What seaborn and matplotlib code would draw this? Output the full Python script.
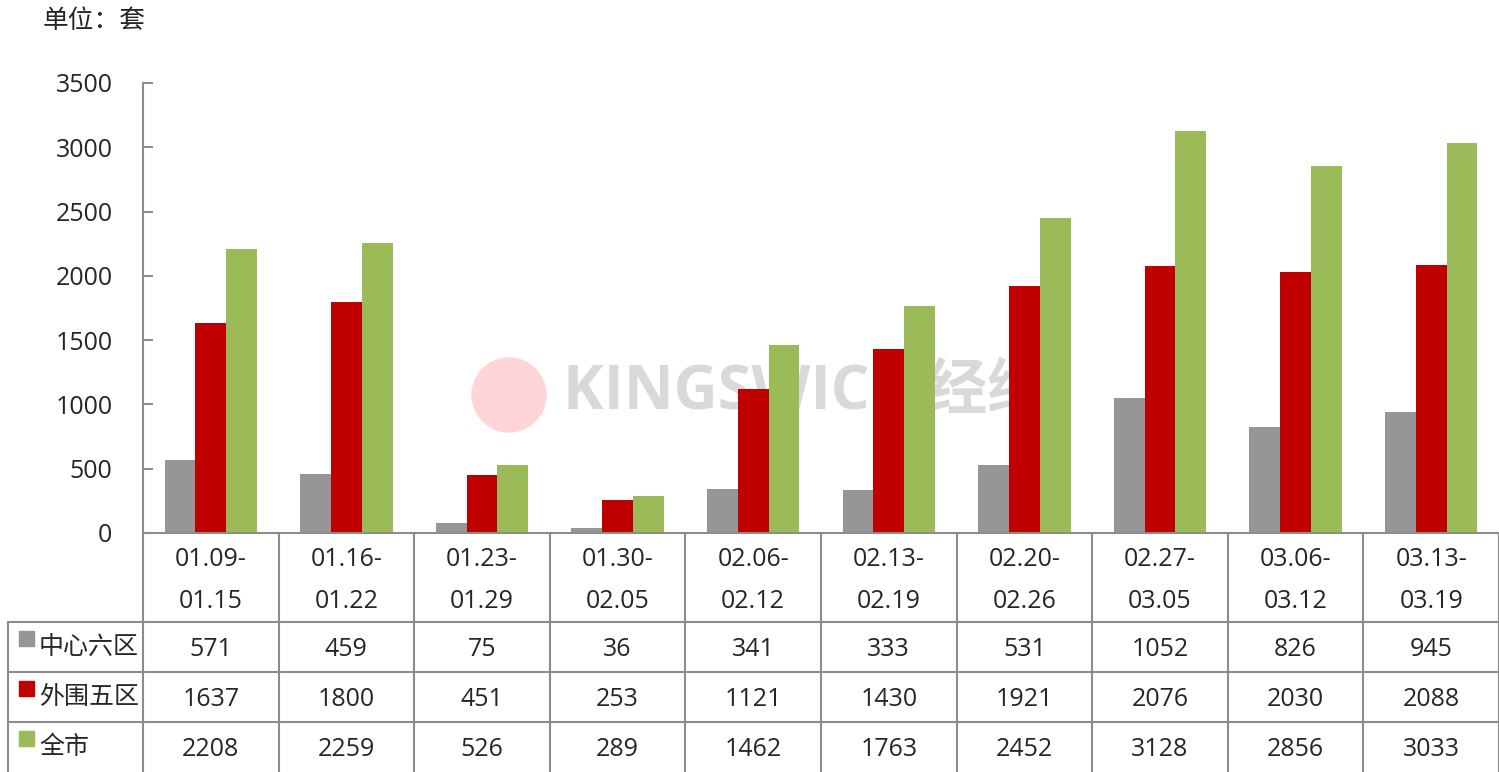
import matplotlib.pyplot as plt
import matplotlib.patches as mpatches
import pandas as pd
import seaborn as sns

# Data
weeks = ['01.09-\n01.15', '01.16-\n01.22', '01.23-\n01.29', '01.30-\n02.05',
         '02.06-\n02.12', '02.13-\n02.19', '02.20-\n02.26', '02.27-\n03.05',
         '03.06-\n03.12', '03.13-\n03.19']
series = ['中心六区', '外围五区', '全市']
center6 = [571, 459, 75, 36, 341, 333, 531, 1052, 826, 945]
outer5 = [1637, 1800, 451, 253, 1121, 1430, 1921, 2076, 2030, 2088]
city = [2208, 2259, 526, 289, 1462, 1763, 2452, 3128, 2856, 3033]
colors = ['#969696', '#C00000', '#9BBB59']

sns.set_theme(style='white')
plt.rcParams['font.family'] = ['Open Sans', 'Noto Sans CJK SC', 'DejaVu Sans']

values = [center6, outer5, city]
df = pd.DataFrame({
  'week': weeks * 3,
  'series': [s for s in series for _ in weeks],
  'value': center6 + outer5 + city,
})

fig = plt.figure(figsize=(14.99, 7.72), dpi=100)
ax = fig.add_axes([143 / 1499, 239 / 772, 1356 / 1499, 450 / 772])

# watermark behind bars
ax.add_patch(mpatches.Ellipse((509 / 1499, 1 - 395 / 772), 74 / 1499, 74 / 772,
                              transform=fig.transFigure, color='#ffd5d8',
                              zorder=0.3, clip_on=False))
ax.text(563 / 1499, 1 - 393 / 772, 'KINGSWICK 经纬', fontsize=44,
        fontweight='bold', color='#d9d9d9', va='center', ha='left',
        zorder=0.4, transform=fig.transFigure,
        family=['Open Sans', 'Noto Sans CJK SC'])

sns.barplot(data=df, x='week', y='value', hue='series', hue_order=series,
            palette=colors, width=0.68, gap=0, saturation=1, ax=ax,
            legend=False, errorbar=None, linewidth=0, zorder=2)

ax.set_xlim(-0.5, len(weeks) - 0.5)
ax.set_ylim(0, 3500)
ax.set_yticks(range(0, 3501, 500))
ax.set_xticks([])
ax.set_xlabel('')
ax.set_ylabel('')
ax.tick_params(axis='y', direction='in', length=7, width=1.5, color='#8c8c8c',
               labelsize=18, pad=22, left=True)
for s in ['top', 'right']:
  ax.spines[s].set_visible(False)
for s in ['left', 'bottom']:
  ax.spines[s].set_color('#8c8c8c')
  ax.spines[s].set_linewidth(1.5)

# data table under the axis
line_kw = dict(color='#8c8c8c', lw=1.5, clip_on=False)
xtr = ax.get_xaxis_transform()
row_y = [-89 / 450, -139 / 450, -189 / 450, -239 / 450]
left_edge = -135 / 1356
for i in range(len(weeks) + 1):
  ax.plot([i - 0.5, i - 0.5], [0, row_y[-1]], transform=xtr, **line_kw)
ax.plot([left_edge, left_edge], [row_y[0], row_y[-1]],
        transform=ax.transAxes, **line_kw)
for y in row_y[:3]:
  ax.plot([left_edge, 1], [y, y], transform=ax.transAxes, **line_kw)

for i, w in enumerate(weeks):
  top, bottom = w.split('\n')
  ax.text(i, -27 / 450, top, transform=xtr, ha='center', va='center',
          fontsize=18)
  ax.text(i, -69 / 450, bottom, transform=xtr, ha='center', va='center',
          fontsize=18)

for r, (name, vals, c) in enumerate(zip(series, values, colors)):
  yc = (row_y[r] + row_y[r + 1]) / 2
  for i, v in enumerate(vals):
    ax.text(i, yc - 2 / 450, str(v), transform=xtr, ha='center', va='center',
            fontsize=18)
  ax.add_patch(mpatches.Rectangle((-124 / 1356, yc + 1 / 450), 15 / 1356,
                                  15 / 450, transform=ax.transAxes,
                                  color=c, clip_on=False))
  ax.text(-104 / 1356, yc - 1 / 450, name, transform=ax.transAxes, ha='left',
          va='center', fontsize=18)

fig.text(43 / 1499, 1 - 22 / 772, '单位：套', fontsize=18.5, ha='left',
         va='center')

fig.savefig('out.png', dpi=100)
